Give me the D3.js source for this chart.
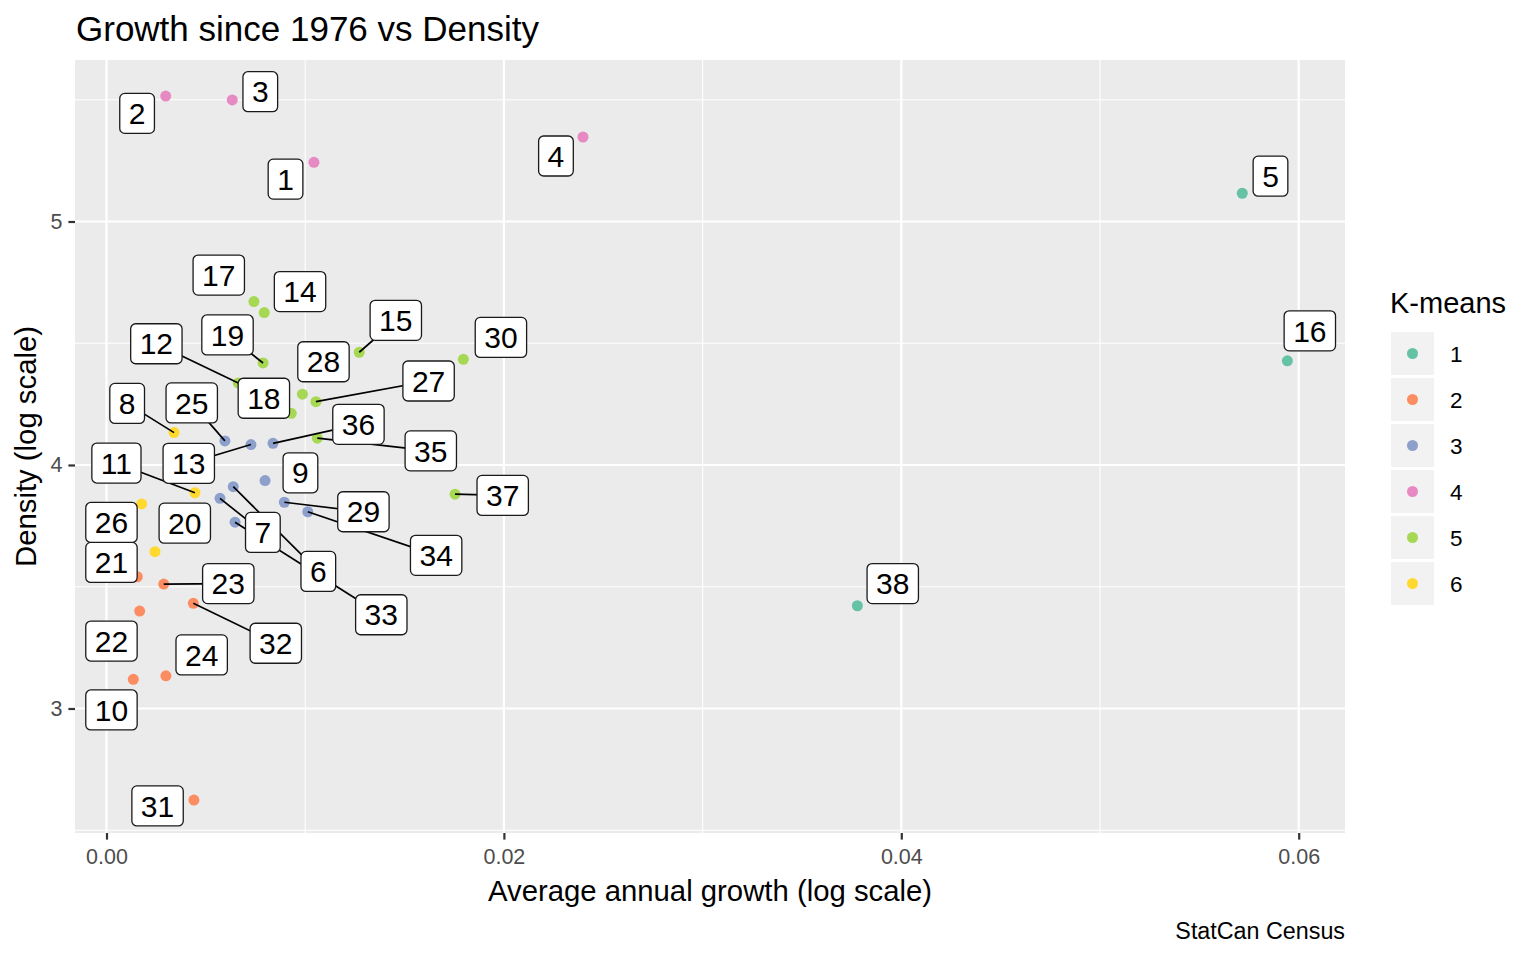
<!DOCTYPE html>
<html lang="en">
<head>
<meta charset="UTF-8">
<title>Growth since 1976 vs Density</title>
<style>
    body { margin: 0; background: #ffffff; }
    svg { display: block; font-family: "Liberation Sans", Arial, sans-serif; }
</style>
</head>
<body>
<div id="chart"></div>
<script src="https://d3js.org/d3.v7.min.js"></script>
<script>
// region ids 1..38
const ids = d3.range(1, 39);
const growth = [0.01044, 0.00298, 0.00633, 0.02398, 0.05716, 0.00638, 0.00571, 0.00340, 0.00798, 0.00135,
                0.00445, 0.00663, 0.00727, 0.00794, 0.01272, 0.05943, 0.00742, 0.00930, 0.00788, 0.00244,
                0.00155, 0.00167, 0.00288, 0.00299, 0.00596, 0.00177, 0.01054, 0.00986, 0.00895, 0.01796,
                0.00440, 0.00437, 0.00647, 0.01013, 0.01061, 0.00838, 0.01754, 0.03779];
const density = [5.243, 5.515, 5.499, 5.347, 5.116, 3.911, 3.863, 4.133, 3.936, 3.120,
                 3.886, 4.337, 4.084, 4.626, 4.463, 4.428, 4.671, 4.212, 4.419, 3.644,
                 3.541, 3.400, 3.511, 3.134, 4.099, 3.840, 4.260, 4.291, 3.847, 4.434,
                 2.624, 3.432, 3.765, 3.808, 4.110, 4.089, 3.880, 3.422];
const cluster = [4, 4, 4, 4, 1, 3, 3, 6, 3, 2, 6, 5, 3, 5, 5, 1, 5, 5, 5, 6,
                 2, 2, 2, 2, 3, 6, 5, 5, 3, 5, 2, 2, 3, 3, 5, 3, 5, 1];

// where the repelled labels ended up (data units)
const labelGrowth = [0.00901, 0.00154, 0.00774, 0.02262, 0.05858, 0.01066, 0.00787, 0.00104, 0.00976, 0.00025,
                     0.00050, 0.00251, 0.00414, 0.00974, 0.01456, 0.06056, 0.00565, 0.00792, 0.00609, 0.00394,
                     0.00025, 0.00025, 0.00613, 0.00479, 0.00429, 0.00025, 0.01621, 0.01092, 0.01293, 0.01985,
                     0.00257, 0.00852, 0.01383, 0.01659, 0.01632, 0.01268, 0.01994, 0.03957];
const labelDensity = [5.174, 5.444, 5.533, 5.269, 5.186, 3.563, 3.723, 4.253, 3.968, 2.994,
                      4.008, 4.498, 4.007, 4.712, 4.594, 4.551, 4.780, 4.274, 4.534, 3.761,
                      3.600, 3.277, 3.513, 3.220, 4.255, 3.764, 4.345, 4.424, 3.808, 4.524,
                      2.600, 3.268, 3.385, 3.629, 4.058, 4.167, 3.875, 3.513];
// labels that got a leader segment
const leaders = [6, 7, 8, 11, 12, 13, 15, 19, 23, 25, 27, 29, 32, 33, 34, 35, 36, 37];

const clusters = [1, 2, 3, 4, 5, 6];
const xTicks = [0, 0.02, 0.04, 0.06];
const xMinor = [0.01, 0.03, 0.05];
const yTicks = [3, 4, 5];
const yMinor = [2.5, 3.5, 4.5, 5.5];

const W = 1536, H = 960;
const panel = { left: 75, right: 1345, top: 60, bottom: 833 };

const x = d3.scaleLinear().domain([-0.001585, 0.06233]).range([panel.left, panel.right]);
const y = d3.scaleLinear().domain([2.4887, 5.6632]).range([panel.bottom, panel.top]);
const color = d3.scaleOrdinal().domain(clusters)
    .range(["#66c2a5", "#fc8d62", "#8da0cb", "#e78ac3", "#a6d854", "#ffd92f"]);

const svg = d3.select("#chart").append("svg")
    .attr("width", W)
    .attr("height", H);

// panel
svg.append("rect")
    .attr("x", panel.left).attr("y", panel.top)
    .attr("width", panel.right - panel.left)
    .attr("height", panel.bottom - panel.top)
    .attr("fill", "#ebebeb");

const grid = svg.append("g");
grid.selectAll(".xminor").data(xMinor).enter().append("line")
    .attr("x1", d => x(d)).attr("x2", d => x(d))
    .attr("y1", panel.top).attr("y2", panel.bottom)
    .attr("stroke", "#ffffff").attr("stroke-width", 1.1);
grid.selectAll(".yminor").data(yMinor).enter().append("line")
    .attr("y1", d => y(d)).attr("y2", d => y(d))
    .attr("x1", panel.left).attr("x2", panel.right)
    .attr("stroke", "#ffffff").attr("stroke-width", 1.1);
grid.selectAll(".xmajor").data(xTicks).enter().append("line")
    .attr("x1", d => x(d)).attr("x2", d => x(d))
    .attr("y1", panel.top).attr("y2", panel.bottom)
    .attr("stroke", "#ffffff").attr("stroke-width", 2.2);
grid.selectAll(".ymajor").data(yTicks).enter().append("line")
    .attr("y1", d => y(d)).attr("y2", d => y(d))
    .attr("x1", panel.left).attr("x2", panel.right)
    .attr("stroke", "#ffffff").attr("stroke-width", 2.2);

// axes
const xAxis = svg.append("g")
    .attr("transform", `translate(0,${panel.bottom})`)
    .call(d3.axisBottom(x).tickValues(xTicks).tickFormat(d3.format(".2f")).tickSize(6.6).tickPadding(9));
const yAxis = svg.append("g")
    .attr("transform", `translate(${panel.left},0)`)
    .call(d3.axisLeft(y).tickValues(yTicks).tickFormat(d3.format("d")).tickSize(6.6).tickPadding(6));
[xAxis, yAxis].forEach(a => {
    a.select(".domain").remove();
    a.selectAll(".tick line").attr("stroke", "#333333").attr("stroke-width", 2.2);
    a.selectAll(".tick text").attr("fill", "#4d4d4d").style("font-size", "21.5px")
        .style("font-family", "'Liberation Sans', Arial, sans-serif");
});

// data rows
const rows = ids.map((id, i) => ({
    id: id, gx: growth[i], dy: density[i], k: cluster[i],
    lx: labelGrowth[i], ly: labelDensity[i]
}));

// points
svg.append("g").selectAll("circle").data(rows).enter().append("circle")
    .attr("cx", d => x(d.gx))
    .attr("cy", d => y(d.dy))
    .attr("r", 5.5)
    .attr("fill", d => color(d.k));

// leader segments (under all labels)
svg.append("g").selectAll("line").data(rows.filter(d => leaders.includes(d.id))).enter().append("line")
    .attr("x1", d => x(d.gx)).attr("y1", d => y(d.dy))
    .attr("x2", d => x(d.lx)).attr("y2", d => y(d.ly))
    .attr("stroke", "#000000").attr("stroke-width", 1.7);

// labels
const lab = svg.append("g").selectAll("g").data(rows).enter().append("g")
    .attr("transform", d => `translate(${x(d.lx)},${y(d.ly)})`);
const rects = lab.append("rect")
    .attr("fill", "#ffffff").attr("stroke", "#1a1a1a").attr("stroke-width", 1.3)
    .attr("rx", 5).attr("ry", 5);
const texts = lab.append("text")
    .attr("text-anchor", "middle")
    .attr("y", 10.7)
    .style("font-size", "30px")
    .attr("fill", "#000000")
    .text(d => d.id);
texts.each(function (d) {
    d.tw = this.getComputedTextLength();
});
rects.attr("x", d => -(d.tw + 18) / 2).attr("y", -20)
    .attr("width", d => d.tw + 18).attr("height", 40);

// titles
svg.append("text").attr("x", 76).attr("y", 41)
    .style("font-size", "35px").attr("fill", "#000")
    .text("Growth since 1976 vs Density");
svg.append("text").attr("x", (panel.left + panel.right) / 2).attr("y", 901)
    .attr("text-anchor", "middle").style("font-size", "29.3px").attr("fill", "#000")
    .text("Average annual growth (log scale)");
svg.append("text")
    .attr("transform", `translate(36,${(panel.top + panel.bottom) / 2}) rotate(-90)`)
    .attr("text-anchor", "middle").style("font-size", "29.3px").attr("fill", "#000")
    .text("Density (log scale)");
svg.append("text").attr("x", panel.right).attr("y", 939)
    .attr("text-anchor", "end").style("font-size", "23.3px").attr("fill", "#000")
    .text("StatCan Census");

// legend
const leg = svg.append("g").attr("transform", "translate(1390,0)");
leg.append("text").attr("x", 0).attr("y", 313)
    .style("font-size", "29px").attr("fill", "#000").text("K-means");
const keys = leg.selectAll(".key").data(clusters).enter().append("g")
    .attr("transform", (d, i) => `translate(1,${332 + i * 46})`);
keys.append("rect").attr("width", 43).attr("height", 43).attr("fill", "#f2f2f2");
keys.append("circle").attr("cx", 21.5).attr("cy", 21.5).attr("r", 5.5).attr("fill", d => color(d));
keys.append("text").attr("x", 59).attr("y", 29.5)
    .style("font-size", "22.5px").attr("fill", "#000").text(d => d);
</script>
</body>
</html>
